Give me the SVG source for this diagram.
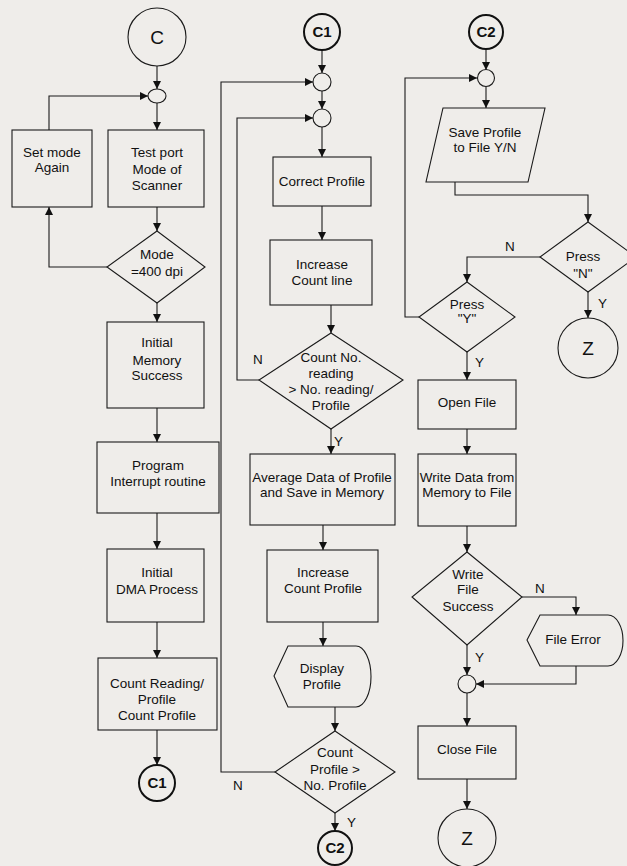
<svg xmlns="http://www.w3.org/2000/svg" width="627" height="866" viewBox="0 0 627 866">
<style>
.bg{fill:#efedea}
.s{fill:none;stroke:#1a1a1a;stroke-width:1.1}
.n{fill:#efedea;stroke:#1a1a1a;stroke-width:1.1}
.k{fill:#efedea;stroke:#111;stroke-width:2}
.t{font-family:"Liberation Sans",Arial,sans-serif;font-size:13.5px;fill:#111;text-anchor:middle}
.b{font-size:19px}
.c{font-size:15px;font-weight:bold}
.l{font-family:"Liberation Sans",Arial,sans-serif;font-size:13.5px;fill:#111}
</style>
<defs>
<marker id="ah" markerWidth="8" markerHeight="8" refX="8" refY="4" orient="auto" markerUnits="userSpaceOnUse"><path d="M0,0 L8,4 L0,8 z" fill="#111"/></marker>
</defs>
<rect class="bg" x="0" y="0" width="627" height="866"/>

<g id="connectors" class="s" marker-end="url(#ah)">
<path d="M157,66 V89"/>
<path d="M157,103 V130"/>
<path d="M157,207 V231"/>
<path d="M107,267 H49 V207"/>
<path d="M49,130 V96 H148"/>
<path d="M157,303 V322"/>
<path d="M157,408 V442"/>
<path d="M157,513 V549"/>
<path d="M157,622 V658"/>
<path d="M157,730 V765"/>
<path d="M322,50 V73"/>
<path d="M322,91 V109"/>
<path d="M322,127 V157"/>
<path d="M322,206 V240"/>
<path d="M331,305 V333"/>
<path d="M259,380 H237 V118 H313"/>
<path d="M331,429 V454"/>
<path d="M323,525 V550"/>
<path d="M323,622 V646"/>
<path d="M335,707 V731"/>
<path d="M275,772 H221 V82 H313"/>
<path d="M335,813 V831"/>
<path d="M486,49 V70"/>
<path d="M486,87 V108"/>
<path d="M455,182 V195 H588 V222"/>
<path d="M540,257 H467 V282"/>
<path d="M588,292 V318"/>
<path d="M419,317 H405 V78 H477"/>
<path d="M467,352 V380"/>
<path d="M467,429 V454"/>
<path d="M467,526 V552"/>
<path d="M522,597 H576 V615"/>
<path d="M576,666 V684 H476"/>
<path d="M467,645 V675"/>
<path d="M467,693 V726"/>
<path d="M467,779 V809"/>
</g>

<g id="labels">
<text class="l" x="253" y="364">N</text>
<text class="l" x="334" y="446">Y</text>
<text class="l" x="233" y="790">N</text>
<text class="l" x="347" y="827">Y</text>
<text class="l" x="505" y="251">N</text>
<text class="l" x="598" y="308">Y</text>
<text class="l" x="475" y="367">Y</text>
<text class="l" x="535" y="593">N</text>
<text class="l" x="475" y="662">Y</text>
</g>

<g id="start_C"><circle class="n" cx="157" cy="37" r="29"/><text class="t b" x="157" y="44">C</text></g>
<g id="junction1"><ellipse class="n" cx="157" cy="96" rx="9" ry="7"/></g>
<g id="set_mode"><rect class="n" x="12" y="130" width="80" height="77"/><text class="t" x="52" y="157">Set mode</text><text class="t" x="52" y="172">Again</text></g>
<g id="test_port"><rect class="n" x="108" y="130" width="96" height="77"/><text class="t" x="157" y="157">Test port</text><text class="t" x="157" y="174">Mode of</text><text class="t" x="157" y="190">Scanner</text></g>
<g id="mode_dec"><polygon class="n" points="157,231 205,267 157,303 107,267"/><text class="t" x="157" y="259">Mode</text><text class="t" x="157" y="276">=400 dpi</text></g>
<g id="init_mem"><rect class="n" x="107" y="322" width="97" height="86"/><text class="t" x="157" y="347">Initial</text><text class="t" x="157" y="365">Memory</text><text class="t" x="157" y="380">Success</text></g>
<g id="program"><rect class="n" x="97" y="442" width="122" height="71"/><text class="t" x="158" y="470">Program</text><text class="t" x="158" y="486">Interrupt routine</text></g>
<g id="init_dma"><rect class="n" x="107" y="549" width="97" height="73"/><text class="t" x="157" y="577">Initial</text><text class="t" x="157" y="594">DMA  Process</text></g>
<g id="count_reading"><rect class="n" x="98" y="658" width="119" height="72"/><text class="t" x="157" y="688">Count Reading/</text><text class="t" x="157" y="704">Profile</text><text class="t" x="157" y="720">Count Profile</text></g>
<g id="c1_out"><circle class="k" cx="157" cy="783" r="18"/><text class="t c" x="157" y="788">C1</text></g>

<g id="c1_in"><circle class="k" cx="322" cy="32" r="18"/><text class="t c" x="322" y="37">C1</text></g>
<g id="junction2"><circle class="n" cx="322" cy="82" r="9"/></g>
<g id="junction3"><circle class="n" cx="322" cy="118" r="9"/></g>
<g id="correct"><rect class="n" x="273" y="157" width="98" height="49"/><text class="t" x="322" y="186">Correct  Profile</text></g>
<g id="inc_line"><rect class="n" x="270" y="240" width="102" height="65"/><text class="t" x="322" y="269">Increase</text><text class="t" x="322" y="285">Count line</text></g>
<g id="reading_dec"><polygon class="n" points="331,333 403,380 331,429 259,380"/><text class="t" x="331" y="362">Count No.</text><text class="t" x="331" y="378">reading</text><text class="t" x="331" y="394">&gt; No. reading/</text><text class="t" x="331" y="410">Profile</text></g>
<g id="average"><rect class="n" x="250" y="454" width="145" height="71"/><text class="t" x="322" y="482">Average Data of Profile</text><text class="t" x="322" y="497">and Save in Memory</text></g>
<g id="inc_profile"><rect class="n" x="267" y="550" width="111" height="72"/><text class="t" x="323" y="577">Increase</text><text class="t" x="323" y="593">Count Profile</text></g>
<g id="display"><path class="n" d="M274,676 L288,646 H356 A15,30.5 0 0 1 356,707 H288 Z"/><text class="t" x="322" y="673">Display</text><text class="t" x="322" y="689">Profile</text></g>
<g id="profile_dec"><polygon class="n" points="335,731 395,772 335,813 275,772"/><text class="t" x="335" y="757">Count</text><text class="t" x="335" y="774">Profile &gt;</text><text class="t" x="335" y="790">No. Profile</text></g>
<g id="c2_out"><circle class="k" cx="335" cy="848" r="17"/><text class="t c" x="335" y="853">C2</text></g>

<g id="c2_in"><circle class="k" cx="486" cy="32" r="17"/><text class="t c" x="486" y="37">C2</text></g>
<g id="junction4"><circle class="n" cx="486" cy="78" r="8.5"/></g>
<g id="save_prompt"><polygon class="n" points="443,108 545,108 528,182 426,182"/><text class="t" x="485" y="137">Save Profile</text><text class="t" x="485" y="152">to File Y/N</text></g>
<g id="press_n"><polygon class="n" points="588,222 636,257 588,292 540,257"/><text class="t" x="583" y="261">Press</text><text class="t" x="583" y="278">"N"</text></g>
<g id="z_top"><circle class="n" cx="588" cy="348" r="30"/><text class="t b" x="588" y="355">Z</text></g>
<g id="press_y"><polygon class="n" points="467,282 515,317 467,352 419,317"/><text class="t" x="467" y="309">Press</text><text class="t" x="467" y="323">"Y"</text></g>
<g id="open_file"><rect class="n" x="418" y="380" width="98" height="49"/><text class="t" x="467" y="407">Open File</text></g>
<g id="write_data"><rect class="n" x="418" y="454" width="98" height="72"/><text class="t" x="467" y="482">Write Data from</text><text class="t" x="467" y="497">Memory to File</text></g>
<g id="write_dec"><polygon class="n" points="467,552 522,597 467,645 412,597"/><text class="t" x="468" y="579">Write</text><text class="t" x="468" y="594">File</text><text class="t" x="468" y="611">Success</text></g>
<g id="file_error"><path class="n" d="M527,640 L540,615 H608 A15,25.5 0 0 1 608,666 H540 Z"/><text class="t" x="573" y="644">File Error</text></g>
<g id="junction5"><circle class="n" cx="467" cy="684" r="9"/></g>
<g id="close_file"><rect class="n" x="418" y="726" width="98" height="53"/><text class="t" x="467" y="754">Close File</text></g>
<g id="z_bottom"><circle class="n" cx="467" cy="838" r="29"/><text class="t b" x="467" y="845">Z</text></g>
</svg>
